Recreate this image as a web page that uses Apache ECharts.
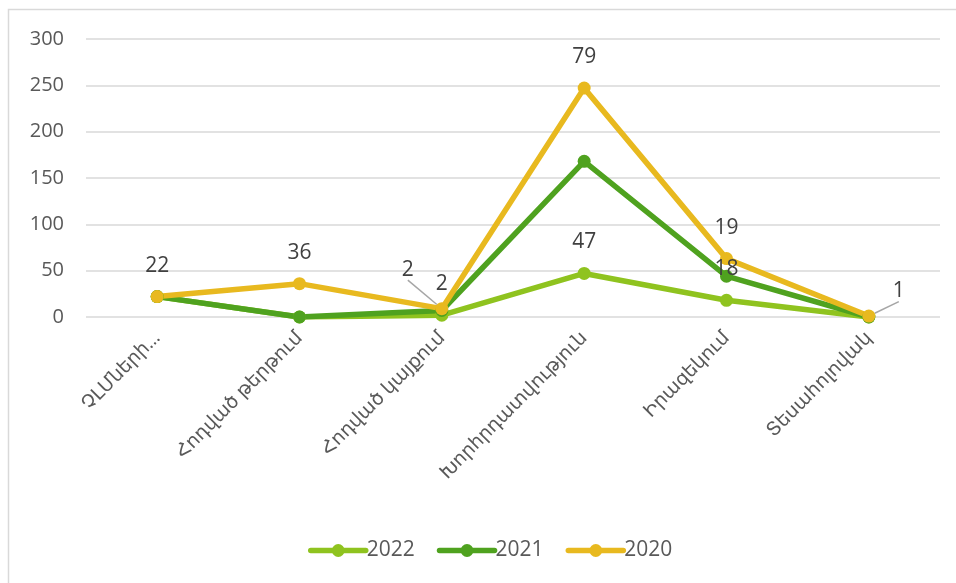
<!DOCTYPE html>
<html>
<head>
<meta charset="utf-8">
<script src="https://cdn.jsdelivr.net/npm/echarts@6/dist/echarts.min.js"></script>
<style>html,body{margin:0;padding:0;background:#fff}#c{width:956px;height:583px}</style>
</head>
<body>
<div id="c"></div>
<script>
const categories = ["ՉԼՄների…", "Հոդված թերթում", "Հոդված կայքում", "Խորհրդատվություն", "Իրազեկում", "Տեսահոլովակ"];
const seriesNames = ["2022", "2021", "2020"];
const values2022 = [22, 0, 2, 47, 18, 0];
const values2021 = [0, 0, 5, 121, 26, 0];
const values2020 = [0, 36, 2, 79, 19, 1];
const yTicks = { min: 0, max: 300, interval: 50 };

const colors = ["#8fc31f", "#4fa21f", "#e8b91f"];
const FONT = "'Open Sans', 'DejaVu Sans', sans-serif";

function mkSeries(name, data, color, showLabel) {
  return {
    name: name,
    type: 'line',
    stack: 'total',
    data: data,
    symbol: 'circle',
    symbolSize: 13,
    lineStyle: { width: 5.5, color: color, cap: 'round', join: 'round' },
    itemStyle: { color: color },
    label: {
      show: showLabel,
      position: 'top',
      distance: 14,
      fontFamily: FONT,
      fontSize: 21,
      color: '#404040',
      formatter: p => (p.value === 0 ? '' : String(p.value))
    },
    labelLine: { show: false, lineStyle: { color: '#a6a6a6', width: 1.5 } }
  };
}

const s2022 = mkSeries(seriesNames[0], values2022, colors[0], true);
const s2021 = mkSeries(seriesNames[1], values2021, colors[1], false);
const s2020 = mkSeries(seriesNames[2], values2020, colors[2], true);
s2020.labelLayout = function (p) {
  if (p.dataIndex === 2) return { dx: -34, dy: -8 };
  if (p.dataIndex === 5) return { dx: 30, dy: 6 };
  return {};
};
s2020.data = values2020.map((v, i) => {
  if (i === 2 || i === 5) return { value: v, labelLine: { show: true, lineStyle: { color: '#a6a6a6', width: 1.5 } } };
  return v;
});

const chart = echarts.init(document.getElementById('c'), null, { renderer: 'canvas' });
chart.setOption({
  animation: false,
  backgroundColor: '#ffffff',
  textStyle: { fontFamily: FONT },
  graphic: [{
    type: 'rect',
    shape: { x: 8.5, y: 9.5, width: 1200, height: 800 },
    style: { fill: 'none', stroke: '#d9d9d9', lineWidth: 1.5 },
    silent: true, z: -10
  }],
  grid: { left: 86, right: 16, top: 39, bottom: 266, containLabel: false },
  legend: {
    data: seriesNames,
    left: 303,
    top: 535,
    itemWidth: 55,
    itemHeight: 16,
    itemGap: 22,
    lineStyle: { width: 5.5, cap: 'round' },
    textStyle: { fontFamily: FONT, fontSize: 21, color: '#595959', padding: [0, 0, 0, -4] }
  },
  xAxis: {
    type: 'category',
    data: categories,
    boundaryGap: true,
    axisLine: { show: false },
    axisTick: { show: false },
    axisLabel: { rotate: 45, margin: 18, interval: 0, fontFamily: FONT, fontSize: 19, color: '#595959' }
  },
  yAxis: {
    type: 'value',
    min: yTicks.min,
    max: yTicks.max,
    interval: yTicks.interval,
    axisLine: { show: false },
    axisTick: { show: false },
    axisLabel: { margin: 22, fontFamily: FONT, fontSize: 20, color: '#595959' },
    splitLine: { lineStyle: { color: '#d9d9d9', width: 1.5 } }
  },
  series: [s2022, s2021, s2020]
});
</script>
</body>
</html>
